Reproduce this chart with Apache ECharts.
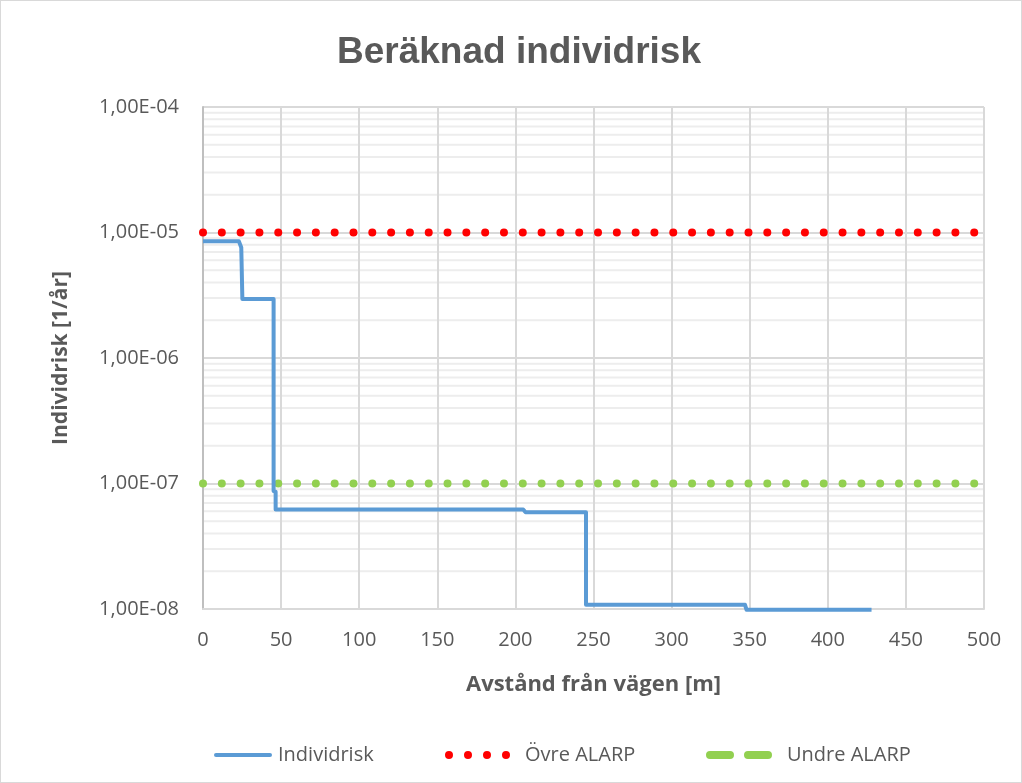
<!DOCTYPE html>
<html>
<head>
<meta charset="utf-8">
<script src="https://cdn.jsdelivr.net/npm/echarts@6/dist/echarts.min.js"></script>
<style>
html,body{margin:0;padding:0;background:#fff;}
#c{width:1022px;height:783px;box-sizing:border-box;border:1px solid #d9d9d9;}
</style>
</head>
<body>
<div id="c"></div>
<script>
// ---- data ----
const titleText = 'Beräknad individrisk';
const xAxisName = 'Avstånd från vägen [m]';
const yAxisName = 'Individrisk [1/år]';
const seriesNames = ['Individrisk', 'Övre ALARP', 'Undre ALARP'];
// Individrisk step curve: distance [m]
const riskX = [0, 23, 24.5, 25.2, 25.2, 45.2, 45.2, 46.5, 46.5, 205, 206.5, 245.2, 245.2, 347, 348, 428];
// Individrisk values [1/år]
const riskY = [8.5e-6, 8.5e-6, 7.6e-6, 7.6e-6, 2.95e-6, 2.95e-6, 8.7e-8, 8.6e-8, 6.2e-8, 6.2e-8, 5.9e-8, 5.9e-8, 1.08e-8, 1.08e-8, 9.85e-9, 9.85e-9];
const upperX = [0, 500];
const upperY = [1e-5, 1e-5];
const lowerX = [0, 500];
const lowerY = [1e-7, 1e-7];
const xTicks = [0, 50, 100, 150, 200, 250, 300, 350, 400, 450, 500];
const yTickLabels = {'-8':'1,00E-08','-7':'1,00E-07','-6':'1,00E-06','-5':'1,00E-05','-4':'1,00E-04'};

const pair = (xs, ys) => xs.map((x, i) => [x, ys[i]]);

// minor log grid lines (2..9 within each decade), drawn as broken line segments
const minorGrid = [];
for (let e = -8; e < -4; e++) for (let k = 2; k <= 9; k++) {
  const v = k * Math.pow(10, e);
  minorGrid.push([xTicks[0], v], [xTicks[xTicks.length - 1], v], '-');
}

const FONT = '"Open Sans", "Noto Sans", sans-serif';
const TXT = '#595959';

// legend icons
const circ = cx => `M${cx - 4},4 A4,4 0 1,0 ${cx + 4},4 A4,4 0 1,0 ${cx - 4},4 Z`;
const dotsIcon = 'path://' + [4, 23, 42, 61].map(circ).join(' ');
const caps = (x0, w) => `M${x0 + 4},0 L${x0 + w - 4},0 A4,4 0 0,1 ${x0 + w - 4},8 L${x0 + 4},8 A4,4 0 0,1 ${x0 + 4},0 Z`;
const dashIcon = 'path://' + caps(0, 28) + ' ' + caps(38, 28);
const lineIcon = 'path://M2,0 L56,0 A2,2 0 0,1 56,4 L2,4 A2,2 0 0,1 2,0 Z';

const legendText = {fontFamily: FONT, fontSize: 20, color: TXT};
const legendBase = {top: 739, orient: 'horizontal', selectedMode: false};

const chart = echarts.init(document.getElementById('c'), null, {renderer: 'canvas'});
chart.setOption({
  animation: false,
  backgroundColor: '#fff',
  title: {
    text: titleText, left: 331, top: 28,
    textStyle: {fontFamily: '"Liberation Sans", Arial, sans-serif', fontSize: 37, fontWeight: 'bold', color: TXT}
  },
  grid: {left: 202, right: 37, top: 106, bottom: 173, containLabel: false},
  legend: [
    Object.assign({}, legendBase, {left: 208, itemWidth: 58, itemHeight: 4, data: [{name: seriesNames[0], icon: lineIcon}],
      textStyle: Object.assign({}, legendText, {padding: [0, 0, 0, 1]})}),
    Object.assign({}, legendBase, {left: 439, itemWidth: 65, itemHeight: 8, data: [{name: seriesNames[1], icon: dotsIcon}],
      textStyle: Object.assign({}, legendText, {padding: [0, 0, 0, 10]})}),
    Object.assign({}, legendBase, {left: 700, itemWidth: 66, itemHeight: 8, data: [{name: seriesNames[2], icon: dashIcon}],
      textStyle: Object.assign({}, legendText, {padding: [0, 0, 0, 10]})})
  ],
  xAxis: {
    type: 'value', min: xTicks[0], max: xTicks[xTicks.length - 1], interval: 50,
    name: xAxisName, nameLocation: 'middle', nameGap: 65,
    nameTextStyle: {fontFamily: FONT, fontSize: 22, fontWeight: 'bold', color: TXT},
    axisLine: {show: true, lineStyle: {color: '#d9d9d9', width: 2}},
    axisTick: {show: false},
    axisLabel: {fontFamily: FONT, fontSize: 20, color: TXT, margin: 21},
    splitLine: {show: true, lineStyle: {color: '#d9d9d9', width: 2}}
  },
  yAxis: {
    type: 'log', logBase: 10, min: 1e-8, max: 1e-4,
    name: yAxisName, nameLocation: 'middle', nameGap: 131, nameRotate: 90,
    nameTextStyle: {fontFamily: FONT, fontSize: 21, fontWeight: 'bold', color: TXT},
    axisLine: {show: true, lineStyle: {color: '#bfbfbf', width: 2}},
    axisTick: {show: false},
    axisLabel: {
      fontFamily: FONT, fontSize: 20, color: TXT, margin: 24,
      formatter: v => yTickLabels[String(Math.round(Math.log10(v)))] || ''
    },
    splitLine: {show: true, lineStyle: {color: '#d9d9d9', width: 2}}
  },
  series: [
    {
      name: 'grid-minor', type: 'line', data: minorGrid, silent: true, z: -1,
      showSymbol: false, symbol: 'none', connectNulls: false,
      lineStyle: {color: '#ededed', width: 2},
      emphasis: {disabled: true}, tooltip: {show: false}
    },
    {
      name: seriesNames[1], type: 'line', data: pair(upperX, upperY), showSymbol: false, symbol: 'none', z: 3,
      color: '#ff0000',
      lineStyle: {color: '#ff0000', width: 8, type: [0.01, 18.8], cap: 'round'}
    },
    {
      name: seriesNames[2], type: 'line', data: pair(lowerX, lowerY), showSymbol: false, symbol: 'none', z: 3,
      color: '#92d050',
      lineStyle: {color: '#92d050', width: 8, type: [0.01, 18.8], cap: 'round'}
    },
    {
      name: seriesNames[0], type: 'line', data: pair(riskX, riskY), showSymbol: false, symbol: 'none', z: 4,
      color: '#5b9bd5', clip: false,
      lineStyle: {color: '#5b9bd5', width: 4, join: 'round'}
    }
  ]
});
</script>
</body>
</html>
